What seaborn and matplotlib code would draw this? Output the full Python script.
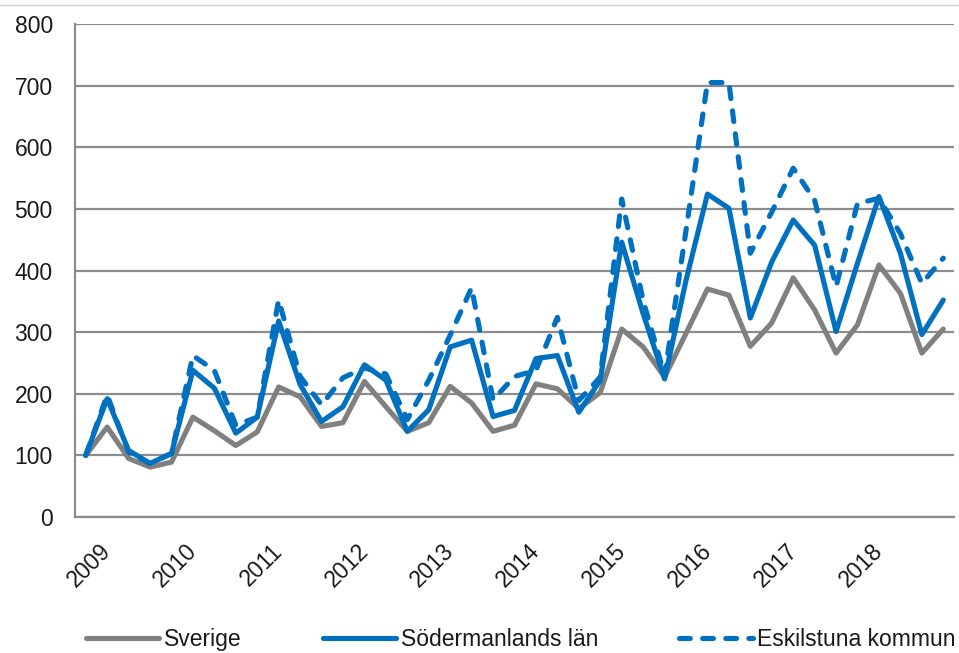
import numpy as np
import pandas as pd
import matplotlib
matplotlib.use("Agg")
import matplotlib.pyplot as plt
import matplotlib.transforms as mtransforms
from matplotlib.lines import Line2D
import seaborn as sns

# ---- data (quarterly index, 2009 Q1 = 100) ----
years = ["2009", "2010", "2011", "2012", "2013", "2014", "2015", "2016", "2017", "2018"]
series_names = ["Sverige", "Södermanlands län", "Eskilstuna kommun"]
sverige = [100, 146, 95, 81, 89, 162, 140, 116, 138, 211,
           195, 147, 153, 220, 179, 139, 153, 212, 185, 139,
           149, 216, 208, 176, 202, 305, 276, 227, 298, 370,
           360, 277, 315, 388, 336, 266, 312, 409, 363, 266, 305]
sodermanland = [100, 192, 108, 87, 103, 238, 209, 136, 162, 318,
                215, 155, 179, 247, 222, 139, 174, 276, 287, 163,
                173, 257, 262, 170, 222, 446, 330, 224, 384, 524,
                501, 323, 414, 482, 441, 301, 412, 520, 428, 296, 352]
eskilstuna = [100, 198, 105, 87, 103, 262, 238, 149, 162, 352,
              228, 182, 226, 242, 232, 158, 222, 295, 372, 190,
              228, 238, 324, 189, 227, 516, 351, 230, 465, 705,
              705, 428, 495, 566, 514, 374, 509, 517, 460, 379, 420]
y_ticks = [0, 100, 200, 300, 400, 500, 600, 700, 800]

n = len(sverige)
df = pd.DataFrame({
    "t": list(range(n)) * 3,
    "value": sverige + sodermanland + eskilstuna,
    "serie": [series_names[0]] * n + [series_names[1]] * n + [series_names[2]] * n,
})

sns.set_style("white")
plt.rcParams["font.family"] = ["Liberation Sans", "DejaVu Sans"]
TEXT = "#1a1a1a"
plt.rcParams["text.color"] = TEXT
plt.rcParams["xtick.labelcolor"] = TEXT
plt.rcParams["ytick.labelcolor"] = TEXT

GRID = "#8c8c8c"
palette = {"Sverige": "#808080", "Södermanlands län": "#0070c0", "Eskilstuna kommun": "#0070c0"}
dashes = {"Sverige": "", "Södermanlands län": "", "Eskilstuna kommun": (2.1, 2.4)}

fig = plt.figure(figsize=(9.59, 6.53), dpi=100)
ax = fig.add_axes([75 / 959, (653 - 517) / 653, (954 - 75) / 959, (517 - 24) / 653])

sns.lineplot(data=df, x="t", y="value", hue="serie", style="serie",
             hue_order=series_names, style_order=series_names,
             palette=palette, dashes=dashes, linewidth=3.7,
             legend=False, ax=ax, dash_capstyle="round", solid_capstyle="round",
             solid_joinstyle="round", dash_joinstyle="round")

ax.set_xlim(-0.5, n - 0.5)
ax.set_ylim(0, 800)
ax.set_yticks(y_ticks)
ax.set_yticklabels([str(v) for v in y_ticks])
ax.yaxis.grid(True, color=GRID, linewidth=1.6)
ax.set_axisbelow(True)
ax.set_xlabel("")
ax.set_ylabel("")

for s in ["top", "right"]:
    ax.spines[s].set_visible(False)
for s in ["left", "bottom"]:
    ax.spines[s].set_color(GRID)
    ax.spines[s].set_linewidth(1.6)

# category boundary tick marks
ax.set_xticks(np.arange(-0.5, n, 1.0), minor=True)
ax.tick_params(axis="x", which="minor", direction="out", length=5, width=1.3, color=GRID)
# year labels at first quarter of each year
ax.set_xticks(np.arange(0, 4 * len(years), 4))
ax.set_xticklabels(years)
ax.tick_params(axis="x", which="major", length=0, pad=22, labelsize=16.5)
offset = mtransforms.ScaledTranslation(22 / 100, 0, fig.dpi_scale_trans)
for lab in ax.get_xticklabels():
    lab.set_rotation(45)
    lab.set_rotation_mode("anchor")
    lab.set_ha("right")
    lab.set_va("center")
    lab.set_transform(lab.get_transform() + offset)

ax.tick_params(axis="y", direction="out", length=5, width=1.3, color=GRID, pad=11, labelsize=16.5)

# legend
handles = ax.get_lines()[:3]
leg = fig.legend(handles=handles, labels=series_names, loc="center",
                 bbox_to_anchor=(0.543, 0.021), ncol=3, frameon=False,
                 fontsize=16.5, handlelength=3.2, handletextpad=0.2, columnspacing=3.55)

# thin top border line
fig.add_artist(Line2D([0, 1], [1 - 5 / 653, 1 - 5 / 653], transform=fig.transFigure,
                      color="#d0d0d0", linewidth=1))

fig.savefig("out.png", dpi=100)
